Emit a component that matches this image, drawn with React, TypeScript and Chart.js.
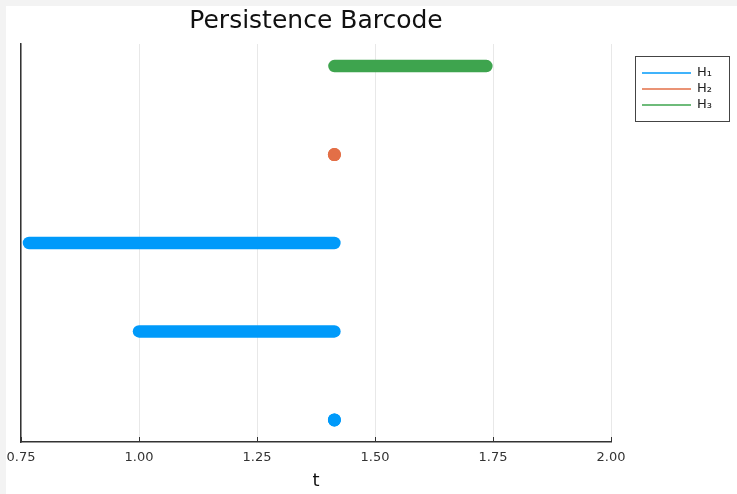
import React, { useEffect, useRef } from "react";
import { Chart, registerables } from "chart.js";

Chart.register(...registerables);

const titleText = "Persistence Barcode";
const xTitle = "t";
const xTicks = [0.75, 1.0, 1.25, 1.5, 1.75, 2.0];
const groupNames = ["H₁", "H₂", "H₃"];
const groupColors = ["#009AFA", "#E36F47", "#3EA44E"];
// each bar: group index, birth, death, level (row)
const barGroup = [0, 0, 0, 1, 2];
const barBirth = [1.414, 1.0, 0.767, 1.414, 1.414];
const barDeath = [1.414, 1.414, 1.414, 1.414, 1.736];
const barLevel = [1, 2, 3, 4, 5];

const FONT = "'DejaVu Sans', sans-serif";

const overlayPlugin = {
  id: "overlay",
  afterDraw(chart: any) {
    const ctx = chart.ctx;
    const xs = chart.scales.x;
    const area = chart.chartArea;
    ctx.save();
    ctx.strokeStyle = "#333";
    ctx.lineWidth = 1;
    xTicks.forEach((v) => {
      const px = Math.round(xs.getPixelForValue(v)) + 0.5;
      ctx.beginPath();
      ctx.moveTo(px, area.bottom);
      ctx.lineTo(px, area.bottom - 5);
      ctx.stroke();
    });
    // legend
    const bx = 629.5, by = 50.5, bw = 94, bh = 65;
    ctx.fillStyle = "#fff";
    ctx.fillRect(bx, by, bw, bh);
    ctx.strokeStyle = "#444";
    ctx.strokeRect(bx, by, bw, bh);
    ctx.font = "13px " + FONT;
    ctx.textBaseline = "middle";
    ctx.textAlign = "left";
    groupNames.forEach((n, i) => {
      const y = 67 + i * 16;
      ctx.strokeStyle = groupColors[i];
      ctx.lineWidth = 1.5;
      ctx.beginPath();
      ctx.moveTo(636, y);
      ctx.lineTo(685, y);
      ctx.stroke();
      ctx.fillStyle = "#222";
      ctx.fillText(n, 691, y);
    });
    ctx.restore();
  },
};

export default function App() {
  const ref = useRef<HTMLCanvasElement>(null);
  useEffect(() => {
    document.body.style.margin = "0";
    document.body.style.background = "#f3f3f3";
    const datasets = barBirth.map((b, i) => {
      const c = groupColors[barGroup[i]];
      const point = b === barDeath[i];
      return {
        label: groupNames[barGroup[i]],
        data: [
          { x: b, y: barLevel[i] },
          { x: barDeath[i], y: barLevel[i] },
        ],
        borderColor: c,
        backgroundColor: c,
        borderWidth: 12.5,
        borderCapStyle: "round" as const,
        pointRadius: point ? 6.5 : 0,
        pointBorderWidth: 0,
        pointBackgroundColor: c,
        showLine: true,
      };
    });
    const chart = new Chart(ref.current!, {
      type: "scatter",
      data: { datasets },
      options: {
        animation: false,
        responsive: true,
        maintainAspectRatio: false,
        layout: { padding: { left: 15, right: 126, top: 0, bottom: 0 } },
        plugins: {
          legend: { display: false },
          tooltip: { enabled: false },
          title: {
            display: true,
            text: titleText,
            fullSize: false,
            color: "#111",
            font: { family: FONT, size: 25, weight: "normal" },
            padding: { top: 0, bottom: 8 },
          },
        },
        scales: {
          x: {
            type: "linear",
            min: 0.75,
            max: 2.0,
            afterBuildTicks: (s: any) => {
              s.ticks = xTicks.map((v) => ({ value: v }));
            },
            afterFit: (s: any) => {
              s.height = 52;
              s.paddingLeft = 0;
              s.paddingRight = 0;
            },
            ticks: {
              color: "#333",
              font: { family: FONT, size: 13 },
              padding: 8,
              maxRotation: 0,
              callback: (v: any) => Number(v).toFixed(2),
            },
            grid: { color: "rgba(0,0,0,0.09)", lineWidth: 1, drawTicks: false },
            border: { display: true, color: "#333", width: 1.5 },
            title: {
              display: true,
              text: xTitle,
              color: "#111",
              font: { family: FONT, size: 18 },
              padding: { top: 0, bottom: 2 },
            },
          },
          y: {
            type: "linear",
            min: 0.75,
            max: 5.25,
            afterFit: (s: any) => {
              s.width = 0;
            },
            ticks: { display: false },
            grid: { display: false, drawTicks: false },
            border: { display: true, color: "#333", width: 1.5 },
          },
        },
      },
      plugins: [overlayPlugin],
    });
    return () => chart.destroy();
  }, []);
  return (
    <div style={{ position: "absolute", left: 6, top: 6, width: 731, height: 488, background: "#fff" }}>
      <canvas ref={ref} />
    </div>
  );
}
